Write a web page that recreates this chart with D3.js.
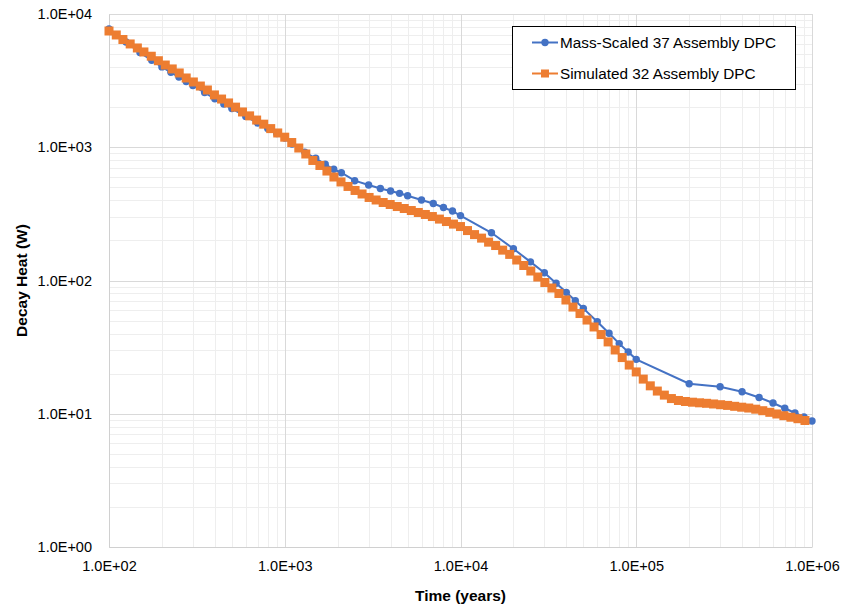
<!DOCTYPE html>
<html>
<head>
<meta charset="utf-8">
<script src="https://cdn.jsdelivr.net/npm/d3@7"></script>
<style>
  html, body { margin: 0; padding: 0; background: #ffffff; }
  svg { display: block; }
  text { font-family: "Liberation Sans", Arial, sans-serif; fill: #000; }
</style>
</head>
<body>
<svg id="chart" width="842" height="607"></svg>
<script>
// ---------------- data ----------------
const seriesNames = ["Mass-Scaled 37 Assembly DPC", "Simulated 32 Assembly DPC"];

const blueTime = [100,125,150,175,200,225,250,275,300,350,400,450,500,600,700,800,900,1000,
  1100,1300,1500,1700,1900,2100,2500,3000,3500,4000,4500,5000,6000,7000,8000,9000,10000,
  15000,20000,25000,30000,35000,40000,45000,50000,60000,70000,80000,90000,100000,
  200000,300000,400000,500000,600000,700000,800000,900000,1000000];
const blueHeat = [7720,6165,5131,4502,4009,3652,3361,3114,2906,2571,2313,2108,1953,1704,1521,1380,1268,1173,
  1058,917,826,745,683,644,561,521,490,470,451,432,402,378,353,332,307,
  228,173,138,114.4,95.3,81.5,70.5,61.8,49.1,40.2,33.6,29.1,25.6,
  16.8,15.96,14.64,13.24,12.04,10.99,10.13,9.45,8.82];

const orangeTime = [
  100,110,120,132,145,158,174,191,209,229,251,275,302,331,363,398,437,479,525,575,631,692,759,832,912,
  1000,1096,1202,1318,1445,1585,1738,1905,2089,2291,2512,2754,3020,3311,3631,3981,4365,4786,5248,5754,6310,6918,7586,8318,9120,
  10000,10960,12020,13180,14450,15850,17380,19050,20890,22910,25120,27540,30200,33110,36310,39810,43650,47860,52480,57540,63100,69180,75860,83180,91200,
  100000,109600,120200,131800,144500,158500,173800,190500,208900,229100,251200,275400,302000,331100,363100,398100,436500,478600,524800,575400,631000,691800,758600,831800,912000];
const orangeHeat = [
  7455,6960,6435,5960,5560,5190,4820,4460,4140,3870,
  3610,3310,3090,2880,2690,2470,2300,2150,2000,1840,
  1720,1600,1490,1380,1280,1190,1085,987,890,796,
  730,663,598,549,508,474,446,420,402,385,
  372,359,347,335,324,313,302,289,277,265,
  254,237,221,208,194,183,169,157,142.5,129.6,
  117.8,106.2,96.6,87.8,79.9,71.4,63.2,56.5,50.5,44.8,
  39.3,34.6,30.1,26.4,23.2,20.6,18.2,16.2,14.8,13.8,
  13.0,12.58,12.36,12.21,12.08,11.98,11.84,11.69,11.55,11.37,
  11.20,11.04,10.82,10.54,10.25,9.96,9.67,9.42,9.18,8.90];

const xTickValues = [1e2, 1e3, 1e4, 1e5, 1e6];
const xTickLabels = ["1.0E+02", "1.0E+03", "1.0E+04", "1.0E+05", "1.0E+06"];
const yTickValues = [1e0, 1e1, 1e2, 1e3, 1e4];
const yTickLabels = ["1.0E+00", "1.0E+01", "1.0E+02", "1.0E+03", "1.0E+04"];

const xTitle = "Time (years)";
const yTitle = "Decay Heat (W)";

// ---------------- layout ----------------
const svg = d3.select("#chart");
const plot = { left: 109, right: 812, top: 14, bottom: 547 };
const blue = "#4472C4", orange = "#ED7D31";

const x = d3.scaleLog().domain([1e2, 1e6]).range([plot.left, plot.right]);
const y = d3.scaleLog().domain([1e0, 1e4]).range([plot.bottom, plot.top]);

svg.append("rect").attr("width", 842).attr("height", 607).attr("fill", "#fff");

// minor gridlines
const minorX = [], minorY = [];
for (let d = 2; d <= 5; d++) for (let m = 2; m <= 9; m++) minorX.push(m * Math.pow(10, d));
for (let d = 0; d <= 3; d++) for (let m = 2; m <= 9; m++) minorY.push(m * Math.pow(10, d));

const grid = svg.append("g");
grid.selectAll(".mx").data(minorX).enter().append("line")
  .attr("x1", d => Math.round(x(d)) + 0.5).attr("x2", d => Math.round(x(d)) + 0.5)
  .attr("y1", plot.top).attr("y2", plot.bottom)
  .attr("stroke", "#eeeeee").attr("stroke-width", 1);
grid.selectAll(".my").data(minorY).enter().append("line")
  .attr("y1", d => Math.round(y(d)) + 0.5).attr("y2", d => Math.round(y(d)) + 0.5)
  .attr("x1", plot.left).attr("x2", plot.right)
  .attr("stroke", "#eeeeee").attr("stroke-width", 1);
// major gridlines
grid.selectAll(".Mx").data(xTickValues).enter().append("line")
  .attr("x1", d => Math.round(x(d)) + 0.5).attr("x2", d => Math.round(x(d)) + 0.5)
  .attr("y1", plot.top).attr("y2", plot.bottom)
  .attr("stroke", "#d9d9d9").attr("stroke-width", 1);
grid.selectAll(".My").data(yTickValues).enter().append("line")
  .attr("y1", d => Math.round(y(d)) + 0.5).attr("y2", d => Math.round(y(d)) + 0.5)
  .attr("x1", plot.left).attr("x2", plot.right)
  .attr("stroke", "#d9d9d9").attr("stroke-width", 1);

// axes (labels via d3 axes, no tick marks)
const xAxis = d3.axisBottom(x).tickValues(xTickValues)
  .tickFormat((d, i) => xTickLabels[i]).tickSize(0).tickPadding(14);
const gx = svg.append("g").attr("transform", `translate(0,${plot.bottom})`).call(xAxis);
gx.select(".domain").attr("stroke", "#d0d0d0");
gx.selectAll("text").attr("font-size", 14.5).attr("font-family", "Liberation Sans, Arial, sans-serif").attr("fill", "#000");

const yAxis = d3.axisLeft(y).tickValues(yTickValues)
  .tickFormat((d, i) => yTickLabels[i]).tickSize(0).tickPadding(17);
const gy = svg.append("g").attr("transform", `translate(${plot.left},0)`).call(yAxis);
gy.select(".domain").attr("stroke", "#d0d0d0");
gy.selectAll("text").attr("font-size", 14.5).attr("font-family", "Liberation Sans, Arial, sans-serif").attr("fill", "#000");

// axis titles
svg.append("text").attr("x", (plot.left + plot.right) / 2).attr("y", 601)
  .attr("text-anchor", "middle").attr("font-size", 15.5).attr("font-weight", "bold").text(xTitle);
svg.append("text").attr("transform", `translate(27,${(plot.top + plot.bottom) / 2}) rotate(-90)`)
  .attr("text-anchor", "middle").attr("font-size", 15.5).attr("font-weight", "bold").text(yTitle);

// series
const blueData = blueTime.map((t, i) => [t, blueHeat[i]]);
const orangeData = orangeTime.map((t, i) => [t, orangeHeat[i]]);
const line = d3.line().x(d => x(d[0])).y(d => y(d[1]));

svg.append("path").datum(blueData).attr("d", line)
  .attr("fill", "none").attr("stroke", blue).attr("stroke-width", 2);
svg.selectAll(".bdot").data(blueData).enter().append("circle")
  .attr("cx", d => x(d[0])).attr("cy", d => y(d[1])).attr("r", 3.7).attr("fill", blue);

svg.append("path").datum(orangeData).attr("d", line)
  .attr("fill", "none").attr("stroke", orange).attr("stroke-width", 2);
const sq = 9;
svg.selectAll(".osq").data(orangeData).enter().append("rect")
  .attr("x", d => x(d[0]) - sq / 2).attr("y", d => y(d[1]) - sq / 2)
  .attr("width", sq).attr("height", sq).attr("fill", orange);

// legend
const lg = svg.append("g");
lg.append("rect").attr("x", 512.5).attr("y", 26.5).attr("width", 283).attr("height", 63)
  .attr("fill", "#fff").attr("stroke", "#000").attr("stroke-width", 1);
const rows = [{ name: seriesNames[0], color: blue, shape: "circle", yy: 42.5 },
              { name: seriesNames[1], color: orange, shape: "square", yy: 73.5 }];
rows.forEach(r => {
  lg.append("line").attr("x1", 532).attr("x2", 558).attr("y1", r.yy).attr("y2", r.yy)
    .attr("stroke", r.color).attr("stroke-width", 2);
  if (r.shape === "circle") {
    lg.append("circle").attr("cx", 545).attr("cy", r.yy).attr("r", 3.7).attr("fill", r.color);
  } else {
    lg.append("rect").attr("x", 545 - 4).attr("y", r.yy - 4).attr("width", 8).attr("height", 8).attr("fill", r.color);
  }
  lg.append("text").attr("x", 560).attr("y", r.yy).attr("dy", "0.35em")
    .attr("font-size", 15.3).text(r.name);
});
</script>
</body>
</html>
